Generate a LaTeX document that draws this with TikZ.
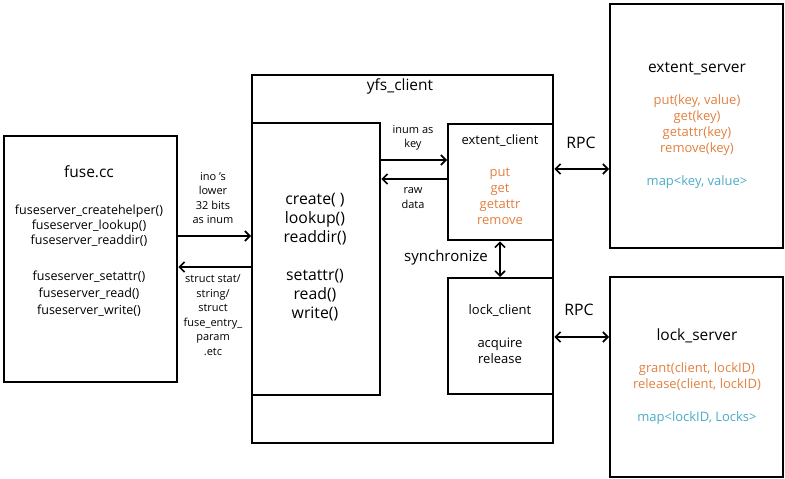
\documentclass[tikz,border=0pt]{standalone}
\usepackage{fontspec}
\setmainfont{Open Sans}
\usetikzlibrary{arrows.meta}
\definecolor{fnorange}{HTML}{E2803F}
\definecolor{mapblue}{HTML}{4BACC6}
\tikzset{
  box/.style={draw, line width=2.4pt, anchor=north west, inner sep=0pt},
  arr/.style={line width=1.8pt, -{Straight Barb[length=5pt,width=10pt,line width=1.6pt]}},
  darr/.style={line width=1.8pt, {Straight Barb[length=5pt,width=10pt,line width=1.6pt]}-{Straight Barb[length=5pt,width=10pt,line width=1.6pt]}},
  title/.style={font=\fontsize{15.5}{17}\selectfont, inner sep=0pt},
  mid/.style={font=\fontsize{15.8}{19}\selectfont, align=center, inner sep=0pt},
  fn/.style={font=\fontsize{13}{16}\selectfont, align=center, inner sep=0pt},
  small/.style={font=\fontsize{11}{14.5}\selectfont, align=center, inner sep=0pt},
}
\begin{document}
\begin{tikzpicture}[x=1pt,y=-1pt]
\useasboundingbox (0,0) rectangle (785,479);

% boxes
\node[box, minimum width=173, minimum height=246] (fuse) at (3,135) {};
\node[box, minimum width=301, minimum height=368] (yfs) at (251,74) {};
\node[box, minimum width=128, minimum height=272] (core) at (251,122) {};
\node[box, minimum width=105, minimum height=116] (ec) at (447,123) {};
\node[box, minimum width=105, minimum height=116] (lc) at (447,277) {};
\node[box, minimum width=173, minimum height=244] (es) at (609,3) {};
\node[box, minimum width=173, minimum height=200] (ls) at (609,276) {};

% fuse.cc contents
\node[title] (fusettl) at (89,172) {fuse.cc};
\node[fn, font=\fontsize{12.5}{15}\selectfont] (fusefa) at (89,226) {fuseserver\_createhelper()\\fuseserver\_lookup()\\fuseserver\_readdir()};
\node[fn, font=\fontsize{12.5}{17}\selectfont] (fusefb) at (89,294) {fuseserver\_setattr()\\fuseserver\_read()\\fuseserver\_write()};

% yfs_client contents
\node[title] (yfsttl) at (400,86) {yfs\_client};
\node[mid] (corea) at (315,219) {create( )\\lookup()\\readdir()};
\node[mid] (coreb) at (315,295) {setattr()\\read()\\write()};

% extent_client contents
\node[fn] (ecttl) at (500,141) {extent\_client};
\node[fn, text=fnorange] (ecfn) at (500,196) {put\\get\\getattr\\remove};

% lock_client contents
\node[fn] (lcttl) at (500,311) {lock\_client};
\node[fn] (lcfn) at (500,351) {acquire\\release};

% extent_server contents
\node[title] (esttl) at (697,69) {extent\_server};
\node[fn, text=fnorange] (esfn) at (697,125) {put(key, value)\\get(key)\\getattr(key)\\remove(key)};
\node[fn, text=mapblue] (esmap) at (697,182) {map<key, value>};

% lock_server contents
\node[title] (lsttl) at (697,336) {lock\_server};
\node[fn, text=fnorange] (lsfn) at (697,377) {grant(client, lockID)\\release(client, lockID)};
\node[fn, text=mapblue] (lsmap) at (697,418) {map<lockID, Locks>};

% arrow levels
\coordinate (l1) at (0,236);
\coordinate (l2) at (0,267);
\coordinate (l3) at (0,160);
\coordinate (l4) at (0,179);
\coordinate (l5) at (0,169);
\coordinate (l6) at (0,337);
\coordinate (sx) at (500,0);

% connectors
\draw[arr] (fuse.east |- l1) -- (core.west |- l1);
\draw[arr] (core.west |- l2) -- (fuse.east |- l2);
\draw[arr] (core.east |- l3) -- (ec.west |- l3);
\draw[arr] (ec.west |- l4) -- (core.east |- l4);
\draw[darr] (ec.east |- l5) -- (es.west |- l5);
\draw[darr] (lc.east |- l6) -- (ls.west |- l6);
\draw[darr] (ec.south -| sx) -- (lc.north -| sx);

% connector labels
\node[small] (lblino) at (213,198) {ino 's\\lower\\32 bits\\as inum};
\node[small] (lblstruct) at (213,315) {struct stat/\\string/\\struct\\fuse\_entry\_\\param\\.etc};
\node[small] (lblinum) at (413,138) {inum as\\key};
\node[small] (lblraw) at (413,198) {raw\\data};
\node[mid] (lblrpc1) at (581,143) {RPC};
\node[mid] (lblrpc2) at (579,310) {RPC};
\node[mid, font=\fontsize{15}{17}\selectfont] (lblsync) at (446,258) {synchronize};
\end{tikzpicture}
\end{document}
